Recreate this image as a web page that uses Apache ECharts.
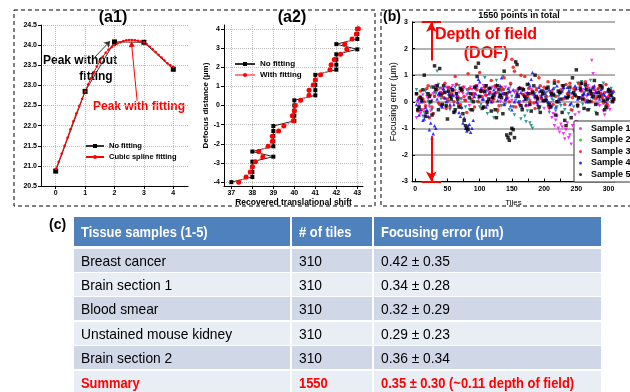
<!DOCTYPE html>
<html>
<head>
<meta charset="utf-8">
<script src="https://cdn.jsdelivr.net/npm/echarts@6/dist/echarts.min.js"></script>
<style>
html, body { margin: 0; padding: 0; background: #fff; }
#chart { width: 630px; height: 392px; }
</style>
</head>
<body>
<div id="chart"></div>
<script>
// (a1) focus metric, raw points vs cubic spline
var a1Pos = [0, 1, 2, 3, 4];
var a1NoFit = [20.87, 22.85, 24.08, 24.07, 23.40];
var a1SplinePos = [0, 0.1, 0.2, 0.3, 0.4, 0.5, 0.6, 0.7, 0.8, 0.9, 1, 1.1, 1.2, 1.3, 1.4, 1.5, 1.6, 1.7, 1.8, 1.9, 2,
  2.1, 2.2, 2.3, 2.4, 2.5, 2.6, 2.7, 2.8, 2.9, 3, 3.1, 3.2, 3.3, 3.4, 3.5, 3.6, 3.7, 3.8, 3.9, 4];
var a1Spline = [20.92, 21.10, 21.30, 21.50, 21.70, 21.91, 22.11, 22.30, 22.49, 22.67, 22.85,
  23.02, 23.18, 23.33, 23.47, 23.60, 23.71, 23.81, 23.89, 23.95, 24.00,
  24.04, 24.07, 24.10, 24.12, 24.13, 24.13, 24.12, 24.11, 24.09, 24.07,
  24.02, 23.96, 23.90, 23.83, 23.76, 23.69, 23.62, 23.55, 23.50, 23.46];

// (a2) defocus distance vs recovered shift
var a2Defocus = [-4, -3.73, -3.47, -3.2, -2.93, -2.67, -2.4, -2.13, -1.87, -1.6, -1.33, -1.07, -0.8, -0.53, -0.27, 0,
  0.27, 0.53, 0.8, 1.07, 1.33, 1.6, 1.87, 2.13, 2.4, 2.67, 2.93, 3.2, 3.47, 3.73, 4];
var a2NoFit = [37, 38, 38, 38, 38, 39, 38, 39, 39, 39, 39, 39, 40, 40, 40, 40,
  40, 41, 41, 41, 41, 41, 42, 42, 42, 42, 43, 42, 43, 43, 43];
var a2Fit = [37.35, 37.7, 37.9, 38.0, 38.15, 38.5, 38.3, 38.75, 38.95, 38.95, 39.25, 39.5, 39.95, 39.9, 40.0, 40.05,
  40.3, 40.7, 40.7, 40.9, 41.0, 41.25, 41.7, 41.75, 41.9, 42.2, 42.5, 42.4, 42.75, 42.95, 43.05];

// (b) focusing error per tile, two interleaved tile sets
var tilesA = [2, 6, 10, 14, 18, 22, 26, 30, 34, 38, 42, 46, 50, 54, 58, 62, 66, 70, 74, 78,
  82, 86, 90, 94, 98, 102, 106, 110, 114, 118, 122, 126, 130, 134, 138, 142, 146, 150, 154, 158,
  162, 166, 170, 174, 178, 182, 186, 190, 194, 198, 202, 206, 210, 214, 218, 222, 226, 230, 234, 238,
  242, 246, 250, 254, 258, 262, 266, 270, 274, 278, 282, 286, 290, 294, 298, 302, 306];
var tilesB = [4, 8, 12, 16, 20, 24, 28, 32, 36, 40, 44, 48, 52, 56, 60, 64, 68, 72, 76, 80,
  84, 88, 92, 96, 100, 104, 108, 112, 116, 120, 124, 128, 132, 136, 140, 144, 148, 152, 156, 160,
  164, 168, 172, 176, 180, 184, 188, 192, 196, 200, 204, 208, 212, 216, 220, 224, 228, 232, 236, 240,
  244, 248, 252, 256, 260, 264, 268, 272, 276, 280, 284, 288, 292, 296, 300, 304, 308];
var sample1A = [-0.6, -0.1, 0.1, -0.3, 0.2, -0.2, 0.05, 0.35, 0.55, 0.3,
  0.45, 0.1, 0.5, 0.25, 0.6, 0.4, 0.15, 0.5, 0.3, 0.05,
  0.4, 0.55, 0.2, 0.45, 0.1, 0.35, 0.6, 0.2, 0.45, 0.0,
  0.3, 0.55, 0.15, 0.4, -0.1, 0.25, 0.5, 0.05, 0.35, 0.2,
  -0.05, 0.4, 0.15, 0.3, 0.05, 0.35, 0.1, -0.1, 0.2, 0.0,
  0.15, -0.2, -0.05, -0.45, -0.7, -1.0, -0.85, -1.2, -1.05, -1.35,
  -1.6, -1.1, -0.75, -0.4, 0.1, 0.35, 0.2, 0.5, 1.55, 0.3,
  0.1, -0.15, 0.2, -0.5, 0.05, -0.3, 0.1];
var sample1B = [0.0, -0.45, 0.25, -0.5, 0.1, -0.35, 0.3, 0.6, 0.2, 0.5,
  0.3, 0.55, 0.0, 0.45, 0.2, 0.65, 0.35, 0.1, 0.55, 0.25,
  -0.15, 0.45, 0.3, 0.6, 0.15, 0.5, 0.25, 0.4, 0.1, 0.55,
  0.2, 0.45, 0.0, 0.3, 0.55, 0.1, 0.35, -0.2, 0.4, 0.25,
  0.5, 0.0, 0.3, -0.15, 0.45, 0.2, -0.05, 0.35, 0.1, -0.25,
  0.05, -0.3, -0.6, -0.9, -0.55, -1.15, -0.95, -1.4, -0.8, -1.25,
  -0.9, -0.5, -0.2, 0.15, 0.45, 0.0, 0.6, 0.25, 1.05, 0.4,
  -0.1, 0.3, -0.35, 0.15, -0.2, 0.35, 0.0];
var sample2A = [0.45, -0.2, 0.1, -0.4, 0.3, -0.1, -0.3, 0.2, 1.15, 0.5,
  -0.15, 0.35, 0.0, -0.3, 0.25, 0.55, -0.1, 0.1, 0.4, -0.2,
  0.3, 0.05, -0.35, 0.5, 0.2, -0.1, 0.35, 0.6, 0.0, 0.25,
  -0.6, 0.8, 0.3, -0.15, 0.45, 0.1, -0.3, 0.2, -0.5, 0.35,
  0.0, 0.25, -0.55, -0.35, -0.8, -1.0, 0.3, 0.1, -0.2, 0.4,
  0.15, -0.1, 0.3, 0.05, -0.35, 0.2, -0.15, 0.45, 0.1, -0.45,
  0.3, -0.2, 0.5, 0.15, 0.75, 0.3, 0.05, -0.3, 0.45, 0.2,
  -0.1, 0.6, 0.25, 0.0, -0.25, 0.35, 0.15];
var sample2B = [-0.3, 0.2, -0.55, 0.4, 0.0, 0.55, -0.45, 0.3, 0.65, 0.1,
  0.4, -0.2, 0.5, 0.15, -0.4, 0.3, 0.6, -0.25, 0.05, 0.45,
  -0.3, 0.25, 0.5, 0.0, -0.2, 0.4, 0.9, -0.45, 0.35, 0.1,
  0.5, -0.4, 0.15, 0.95, -0.1, 0.3, 0.6, -0.2, 0.05, 0.4,
  -0.65, 0.25, -0.75, 0.1, -0.9, 0.35, 0.5, -0.3, 0.2, 0.0,
  0.35, -0.4, 0.1, 0.5, -0.2, 0.25, 0.6, -0.3, 0.15, 0.4,
  -0.35, 0.2, 0.7, 0.4, -0.1, 0.55, 0.25, 0.8, 0.1, -0.4,
  0.45, 0.2, 0.7, -0.15, 0.3, 0.5, 0.1];
var sample3A = [0.3, 0.15, -0.3, 0.0, 0.5, -0.6, -0.2, 0.2, 0.45, -0.1,
  0.3, 0.7, 0.1, -0.2, 0.4, 0.95, 0.2, -0.1, 0.55, 0.05,
  1.05, -0.3, 0.3, 0.6, 0.0, 0.4, -0.2, 0.25, 0.5, 0.8,
  0.1, 0.35, -0.15, 0.55, 0.9, 0.2, 0.0, 1.6, 1.15, 0.3,
  -0.1, 0.5, 0.95, 0.2, 0.0, 0.4, -0.25, 0.15, 0.6, 0.3,
  0.05, 0.75, 0.35, -0.1, 0.2, 0.75, 0.45, 0.1, 0.65, 0.3,
  -0.3, 0.5, 0.2, 0.7, 0.4, 0.1, 0.55, 0.3, 0.0, 0.45,
  0.2, 0.6, 0.15, 0.35, -0.1, 0.25, 0.05];
var sample3B = [-0.35, 0.4, 0.1, -0.15, 0.6, 0.25, -0.45, 0.5, -0.05, 0.35,
  0.15, -0.25, 0.55, 0.3, 0.0, 0.65, -0.15, 0.4, 0.2, -0.4,
  0.5, 0.1, -0.2, 0.45, 1.1, 0.2, 0.55, -0.05, 0.35, 0.0,
  0.6, -0.3, 0.25, 0.45, 0.05, 0.35, 0.7, 1.3, -0.2, 0.5,
  1.0, 0.25, -0.15, 0.5, 0.3, -0.05, 0.45, 0.9, 0.1, 0.55,
  0.2, -0.2, 0.4, 0.8, 0.0, 0.35, 0.6, -0.1, 0.3, 0.7,
  0.15, 0.45, -0.1, 0.6, 0.25, 0.75, 0.05, 0.4, 0.55, 0.1,
  0.5, 0.3, -0.05, 0.65, 0.2, 0.4, 0.1];
var sample4A = [-0.1, -0.5, 0.0, -0.65, -0.3, -1.05, -1.35, -0.9, 0.1, 0.35,
  -0.2, 0.15, 0.4, -0.1, 0.25, -0.35, 0.0, -0.55, -0.8, -1.0,
  -0.9, -1.15, -0.7, 0.3, 0.85, 0.5, 0.1, -0.2, 0.3, 0.0,
  0.45, 0.65, 0.2, 0.9, -0.1, 0.15, 0.4, -0.3, 0.0, 0.3,
  0.55, -0.2, 0.1, 0.35, 0.6, 1.1, 0.2, -0.1, 0.4, 0.05,
  0.3, 0.0, 0.25, 0.5, -0.2, 0.1, 0.35, 0.55, 0.2, 0.4,
  -0.05, 0.3, 0.5, 0.15, 0.7, 0.3, 0.0, 0.45, 0.2, 0.6,
  0.35, 0.1, 0.5, 0.25, 0.4, 0.15, 0.35];
var sample4B = [0.1, -0.3, -0.7, -0.2, -0.55, -0.8, -1.2, -1.0, 0.3, -0.15,
  0.5, 0.0, 0.3, 0.55, -0.1, 0.2, -0.4, -0.2, -0.6, -1.1,
  -0.85, -1.0, 0.2, 0.6, 0.75, 0.1, 0.4, -0.1, 0.55, 0.2,
  0.35, 0.05, 0.6, 0.3, 0.1, 0.5, -0.15, 0.45, 0.2, 0.0,
  0.35, 0.5, -0.1, 0.7, 0.85, 0.3, 0.0, 0.55, 0.2, 0.4,
  0.1, 0.45, -0.15, 0.3, 0.6, 0.0, 0.4, 0.2, 0.55, -0.1,
  0.35, 0.6, 0.1, 0.45, 0.25, 0.5, 0.3, 0.05, 0.55, 0.35,
  0.2, 0.45, 0.3, 0.0, 0.5, 0.25, 0.4];
var sample5A = [0.3, -0.2, 0.05, 1.0, -0.4, 0.2, -0.5, 1.35, 0.6, 1.25,
  -0.1, 0.35, -0.65, 0.2, 0.45, -0.3, 0.1, 0.5, -0.45, -0.9,
  -1.05, 0.3, 0.0, 1.3, 1.45, 0.4, -0.2, 0.6, 0.1, -0.35,
  0.25, -0.6, 0.45, 0.15, 1.15, -1.25, -1.45, -1.0, -1.35, 1.4,
  0.5, -0.3, 0.2, 0.65, -0.1, 0.35, 1.0, 0.1, -0.4, 0.3,
  0.05, 0.55, -0.2, 0.25, -0.5, 0.4, 0.1, 0.6, -0.9, 0.2,
  -0.6, 0.35, 1.2, 0.15, 0.7, -0.25, 0.45, 0.0, 0.3, 0.8,
  -0.45, 0.2, 0.55, -0.3, 0.1, 0.4, 0.0];
var sample5B = [-0.3, 0.15, 0.45, -0.55, 0.3, 0.0, 0.55, 0.45, -0.3, 0.25,
  0.6, -0.15, 0.4, 0.1, -0.4, 0.3, -0.2, 0.45, -0.7, -1.0,
  0.15, -0.3, 0.55, 0.95, 0.2, -0.25, 0.4, 0.0, 0.5, 0.15,
  -0.3, 0.6, 0.25, -0.45, 0.3, -1.35, -1.2, -1.05, 1.5, 0.2,
  -0.15, 0.45, 0.1, 0.3, -0.35, 0.6, 0.2, -0.2, 0.4, 0.05,
  0.5, -0.1, 0.3, 0.7, 0.0, 0.35, -0.4, -0.7, 0.15, 0.55,
  0.9, 0.25, -0.15, 0.5, 0.1, 0.65, -0.3, 0.4, 0.2, -0.1,
  0.35, 0.6, 0.05, -0.2, 0.45, 0.25, 0.1];
var sampleNames = ['Sample 1', 'Sample 2', 'Sample 3', 'Sample 4', 'Sample 5'];
var tileTicks = [0, 50, 100, 150, 200, 250, 300];

// (c) table
var tableHeader = ['Tissue samples (1-5)', '# of tiles', 'Focusing error (μm)'];
var tissueNames = ['Breast cancer', 'Brain section 1', 'Blood smear', 'Unstained mouse kidney', 'Brain section 2', 'Summary'];
var tileCounts = ['310', '310', '310', '310', '310', '1550'];
var focusErrors = ['0.42 ± 0.35', '0.34 ± 0.28', '0.32 ± 0.29', '0.29 ± 0.23', '0.36 ± 0.34', '0.35 ± 0.30 (~0.11 depth of field)'];

var FONT = 'Liberation Sans, Arial, sans-serif'
var chart = echarts.init(document.getElementById('chart'))

function zip(xs, ys) {
  return xs.map(function (x, i) { return [x, ys[i]] })
}
function zipY(ys, xs) {
  return ys.map(function (y, i) { return [xs[i], y] })
}

var tickLabel = { fontSize: 7, fontWeight: 'bold', color: '#000', fontFamily: FONT, margin: 4 }
var dotGrid = { show: true, lineStyle: { color: '#bbb', type: 'dotted', width: 1 } }
var axLine = { show: true, onZero: false, lineStyle: { color: '#000', width: 1 } }
var axTick = { show: true, length: 3, lineStyle: { color: '#000' } }

// table shapes
var colX = [74, 292, 374]
var colW = [216, 80, 227]
var rowY = [217, 249, 273, 297, 322, 346, 371]
var rowH = [29, 23, 23, 23, 23, 23, 23]
var graphics = []
for (var r = 0; r < rowY.length; r++) {
  var fill = r === 0 ? '#4f81bd' : (r % 2 === 1 ? '#d0d8e8' : '#e9edf4')
  for (var c = 0; c < 3; c++) {
    graphics.push({ type: 'rect', shape: { x: colX[c], y: rowY[r], width: colW[c], height: rowH[r] }, style: { fill: fill }, silent: true })
    var txt, col = '#000', wt = 'normal', sx = 0.92, fs = 15
    if (r === 0) { txt = tableHeader[c]; col = '#fff'; wt = 'bold'; sx = 0.86 }
    else {
      txt = [tissueNames, tileCounts, focusErrors][c][r - 1]
      if (r === rowY.length - 1) { col = '#ff0000'; wt = 'bold'; sx = 0.86 }
    }
    graphics.push({
      type: 'text', x: colX[c] + 7, y: rowY[r] + rowH[r] / 2 + 1, scaleX: sx, silent: true,
      style: { text: txt, fill: col, font: wt + ' ' + fs + 'px ' + FONT, textVerticalAlign: 'middle' }
    })
  }
}
function label(text, x, y, size, color, align) {
  graphics.push({ type: 'text', x: x, y: y, silent: true,
    style: { text: text, fill: color || '#000', font: 'bold ' + size + 'px ' + FONT, textAlign: align || 'center', textVerticalAlign: 'middle' } })
}
graphics.push({ type: 'rect', shape: { x: 14, y: 10, width: 361, height: 196 }, style: { fill: 'none', stroke: '#000', lineWidth: 1, lineDash: [4, 3] }, silent: true })
graphics.push({ type: 'rect', shape: { x: 381, y: 10, width: 262, height: 196 }, style: { fill: 'none', stroke: '#000', lineWidth: 1, lineDash: [4, 3] }, silent: true })
label('(a1)', 113, 18, 16)
label('(a2)', 292, 18, 16)
label('Peak without', 80, 61, 12)
label('fitting', 96, 77, 12)
label('Peak with fitting', 139, 107, 12, '#ff0000')
label('(b)', 383, 17, 14, '#000', 'left')
label('1550 points in total', 519, 16, 9)
label('Depth of field', 486, 35, 16, '#ff0000')
label('(DOF)', 486, 54, 16, '#ff0000')
label('(c)', 49, 225, 14, '#000', 'left')

var sampleColors = ['#ff00ff', '#008080', '#ff0000', '#0000ff', '#000000']
var sampleSymbols = ['triangle', 'triangle', 'circle', 'triangle', 'rect']
var sampleRotate = [180, 180, 0, 0, 0]
var sampleData = [[sample1A, sample1B], [sample2A, sample2B], [sample3A, sample3B], [sample4A, sample4B], [sample5A, sample5B]]

var series = [
  {
    name: 'No fitting', type: 'line', xAxisIndex: 0, yAxisIndex: 0,
    data: zip(a1Pos, a1NoFit), symbol: 'rect', symbolSize: 5,
    itemStyle: { color: '#000' }, lineStyle: { color: '#333', width: 1 },
    markLine: {
      silent: true, symbol: ['none', 'arrow'], symbolSize: 6, label: { show: false },
      lineStyle: { color: '#333', width: 1, type: 'solid' },
      data: [[{ coord: [1.33, 23.70] }, { coord: [1.85, 24.10] }]]
    }
  },
  {
    name: 'Cubic spline fitting', type: 'line', xAxisIndex: 0, yAxisIndex: 0,
    data: zip(a1SplinePos, a1Spline), symbol: 'circle', symbolSize: 2.5,
    itemStyle: { color: '#ff0000' }, lineStyle: { color: '#ff0000', width: 1 },
    markLine: {
      silent: true, symbol: ['none', 'triangle'], symbolSize: 6, label: { show: false },
      lineStyle: { color: '#ff0000', width: 1, type: 'solid' },
      data: [[{ coord: [2.77, 22.62] }, { coord: [2.58, 24.03] }]]
    }
  },
  {
    name: 'No fitting', type: 'line', xAxisIndex: 1, yAxisIndex: 1,
    data: zipY(a2Defocus, a2NoFit), symbol: 'rect', symbolSize: 4,
    itemStyle: { color: '#000' }, lineStyle: { color: '#222', width: 1 }
  },
  {
    name: 'With fitting', type: 'line', xAxisIndex: 1, yAxisIndex: 1,
    data: zipY(a2Defocus, a2Fit), symbol: 'circle', symbolSize: 5,
    itemStyle: { color: '#ff0000' }, lineStyle: { color: '#ff8080', width: 1 }
  }
]
sampleData.forEach(function (pair, k) {
  var s = {
    name: sampleNames[k], type: 'scatter', xAxisIndex: 2, yAxisIndex: 2,
    data: zip(tilesA, pair[0]).concat(zip(tilesB, pair[1])),
    symbol: sampleSymbols[k], symbolRotate: sampleRotate[k], symbolSize: 3.5,
    itemStyle: { color: sampleColors[k] }
  }
  if (k === 2) {
    s.markLine = {
      silent: true, symbol: ['none', 'arrow'], symbolSize: [8, 10], label: { show: false },
      lineStyle: { color: '#ff0000', width: 2, type: 'solid' }, z: 10,
      data: [
        [{ coord: [25, 1.55] }, { coord: [25, 3] }],
        [{ coord: [25, -1.3] }, { coord: [25, -3] }],
        [{ coord: [10, 3], symbol: 'none' }, { coord: [40, 3], symbol: 'none' }],
        [{ coord: [10, -3], symbol: 'none' }, { coord: [40, -3], symbol: 'none' }]
      ]
    }
  }
  series.push(s)
})

chart.setOption({
  animation: false,
  textStyle: { fontFamily: FONT },
  grid: [
    { left: 41, top: 25, width: 147, height: 161 },
    { left: 224, top: 25, width: 139, height: 161 },
    { left: 412, top: 22, width: 203, height: 159.5 }
  ],
  xAxis: [
    {
      gridIndex: 0, type: 'value', min: -0.5, max: 4.5,
      axisLine: axLine, axisTick: { show: true, length: 3, customValues: a1Pos },
      axisLabel: Object.assign({ customValues: a1Pos }, tickLabel), splitLine: dotGrid
    },
    {
      gridIndex: 1, type: 'value', min: 36.65, max: 43.27,
      name: 'Recovered translational shift', nameLocation: 'middle', nameGap: 12,
      nameTextStyle: { fontSize: 8.5, fontWeight: 'bold', color: '#000' },
      axisLine: axLine, axisTick: { show: true, length: 3, customValues: [37, 38, 39, 40, 41, 42, 43] },
      axisLabel: Object.assign({ customValues: [37, 38, 39, 40, 41, 42, 43] }, tickLabel), splitLine: dotGrid
    },
    {
      gridIndex: 2, type: 'value', min: -5, max: 310,
      name: 'Tiles', nameLocation: 'middle', nameGap: 17,
      nameTextStyle: { fontSize: 8, color: '#000' },
      axisLine: axLine, axisTick: { show: true, length: 3, inside: true, customValues: [0, 25, 50, 75, 100, 125, 150, 175, 200, 225, 250, 275, 300] },
      axisLabel: Object.assign({ customValues: tileTicks }, tickLabel), splitLine: { show: false }
    }
  ],
  yAxis: [
    {
      gridIndex: 0, type: 'value', min: 20.5, max: 24.5, interval: 0.5,
      axisLine: axLine, axisTick: axTick,
      axisLabel: Object.assign({ formatter: function (v) { return v.toFixed(1) } }, tickLabel), splitLine: dotGrid
    },
    {
      gridIndex: 1, type: 'value', min: -4.2, max: 4.2,
      name: 'Defocus distance (μm)', nameLocation: 'middle', nameGap: 12,
      nameTextStyle: { fontSize: 8, fontWeight: 'bold', color: '#000' },
      axisLine: axLine, axisTick: { show: true, length: 3, customValues: [-4, -3, -2, -1, 0, 1, 2, 3, 4] },
      axisLabel: Object.assign({ customValues: [-4, -3, -2, -1, 0, 1, 2, 3, 4] }, tickLabel), splitLine: dotGrid
    },
    {
      gridIndex: 2, type: 'value', min: -3, max: 3, interval: 1,
      name: 'Focusing error (μm)', nameLocation: 'middle', nameGap: 14,
      nameTextStyle: { fontSize: 9, color: '#000' },
      axisLine: axLine, axisTick: { show: true, length: 3, inside: true },
      axisLabel: tickLabel,
      splitLine: { show: true, lineStyle: { color: '#999', width: 1.5 } }
    }
  ],
  legend: [
    {
      data: ['No fitting', 'Cubic spline fitting'], orient: 'vertical', left: 80, top: 137,
      itemWidth: 18, itemHeight: 5, itemGap: 3, selectedMode: false,
      textStyle: { fontSize: 7.5, fontWeight: 'bold', color: '#000' }
    },
    {
      data: ['No fitting', 'With fitting'], orient: 'vertical', left: 229, top: 55,
      itemWidth: 20, itemHeight: 5, itemGap: 3, selectedMode: false,
      textStyle: { fontSize: 8, fontWeight: 'bold', color: '#000' }
    },
    {
      data: sampleNames.map(function (n, k) {
        return { name: n, itemStyle: { color: k === 1 ? '#00d000' : sampleColors[k] } }
      }),
      orient: 'vertical', left: 574, top: 121, icon: 'circle', itemWidth: 3, itemHeight: 3, itemGap: 2.5,
      backgroundColor: '#fff', borderColor: '#333', borderWidth: 1, padding: [3, 20, 3, 5], selectedMode: false,
      textStyle: { fontSize: 9, fontWeight: 'bold', color: '#000', padding: [0, 0, 0, 4] }
    }
  ],
  graphic: graphics,
  series: series
})
</script>
</body>
</html>
